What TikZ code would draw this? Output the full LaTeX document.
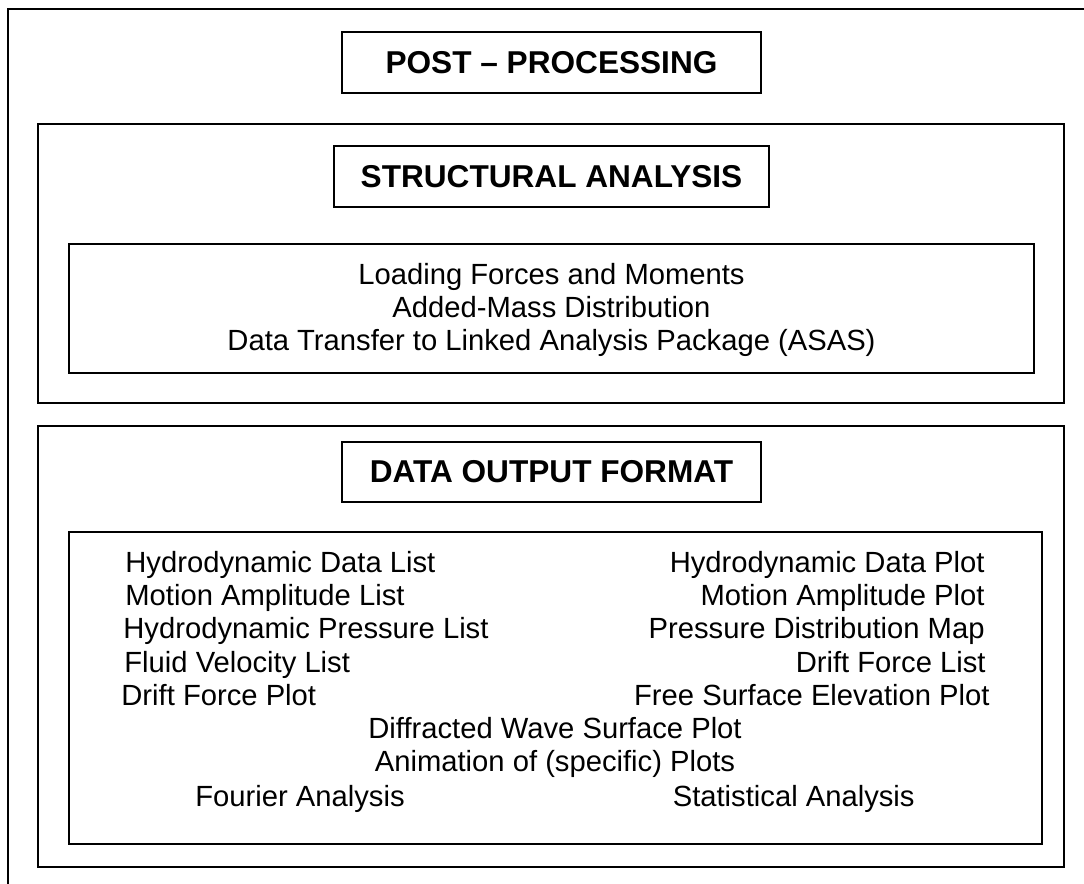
\documentclass[tikz,border=0pt]{standalone}
\usepackage{fontspec}
\setmainfont{Liberation Sans}
\usetikzlibrary{positioning}
\tikzset{
  framebox/.style={
    draw,
    line width=1pt,
    inner sep=0pt
  },
  headbox/.style={
    draw,
    line width=1pt,
    inner sep=0pt,
    minimum height=30.5pt,
    font=\fontsize{15.8}{19}\selectfont\bfseries
  },
  itemtext/.style={
    inner sep=0pt,
    font=\fontsize{14.6}{17}\selectfont
  }
}
\begin{document}
\begin{tikzpicture}[x=0.5pt,y=-0.5pt]
    \useasboundingbox (0,0) rectangle (1084,884);
    \clip (0,0) rectangle (1084,884);
    \draw[line width=1pt] (8,900) |- (1100,9);

    \node[headbox, minimum width=209.5pt] (post) at (551.5,62.5) {POST -- PROCESSING};

    % structural analysis
    \node[framebox, minimum width=513pt, minimum height=139.5pt] (struct) at (551,263.5) {};
    \node[headbox, minimum width=217.5pt] (structhead) at (551.5,176.5) {STRUCTURAL ANALYSIS};
    \node[framebox, minimum width=482.5pt, minimum height=64.5pt] (structlist) at (551.5,308.5) {};
    \node[itemtext, anchor=base] (loads) at (551.5,284) {Loading Forces and Moments};
    \node[itemtext, anchor=base] (addmass) at (551.5,317) {Added-Mass Distribution};
    \node[itemtext, anchor=base] (transfer) at (551.5,350) {Data Transfer to Linked Analysis Package (ASAS)};

    % data output format
    \node[framebox, minimum width=513pt, minimum height=220.5pt] (data) at (551,646.5) {};
    \node[headbox, minimum width=209.5pt, minimum height=30pt] (datahead) at (551.5,472) {DATA OUTPUT FORMAT};
    \node[framebox, minimum width=486.5pt, minimum height=156pt] (datalist) at (555.5,688) {};

    \node[itemtext, anchor=base west] (hydlist) at (125,572) {Hydrodynamic Data List};
    \node[itemtext, anchor=base east] (hydplot) at (985,572) {Hydrodynamic Data Plot};
    \node[itemtext, anchor=base west] (motlist) at (125,605) {Motion Amplitude List};
    \node[itemtext, anchor=base east] (motplot) at (985,605) {Motion Amplitude Plot};
    \node[itemtext, anchor=base west] (preslist) at (123,638) {Hydrodynamic Pressure List};
    \node[itemtext, anchor=base east] (presmap) at (985,638) {Pressure Distribution Map};
    \node[itemtext, anchor=base west] (vellist) at (124,672) {Fluid Velocity List};
    \node[itemtext, anchor=base east] (driftlist) at (986,672) {Drift Force List};
    \node[itemtext, anchor=base west] (driftplot) at (121,705) {Drift Force Plot};
    \node[itemtext, anchor=base east] (surfplot) at (990,705) {Free Surface Elevation Plot};
    \node[itemtext, anchor=base] (diffplot) at (555,738) {Diffracted Wave Surface Plot};
    \node[itemtext, anchor=base] (animplot) at (555,771) {Animation of (specific) Plots};
    \node[itemtext, anchor=base west] (fourier) at (195,806) {Fourier Analysis};
    \node[itemtext, anchor=base east] (stats) at (915,806) {Statistical Analysis};
\end{tikzpicture}
\end{document}
